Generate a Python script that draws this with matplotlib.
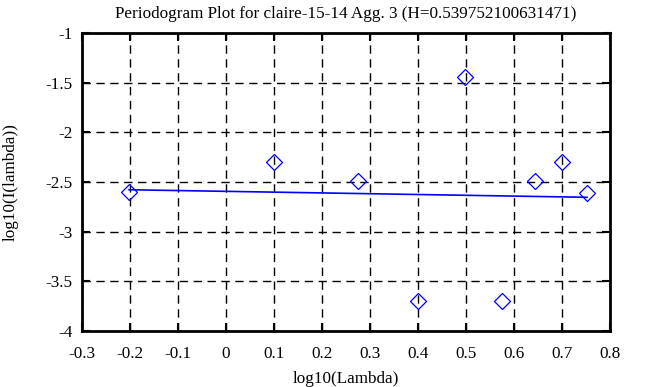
import numpy as np
import matplotlib
matplotlib.use("Agg")
import matplotlib.pyplot as plt

# periodogram points: log10(lambda) vs log10(I(lambda))
log_lambda = [-0.202, 0.099, 0.275, 0.400, 0.497, 0.576, 0.643, 0.701, 0.752]
log_power = [-2.605, -2.294, -2.490, -3.700, -1.445, -3.700, -2.490, -2.294, -2.615]

# least squares fit line endpoints
fit_x = [-0.202, 0.752]
fit_y = [-2.578, -2.654]

title = "Periodogram Plot for claire-15-14 Agg. 3 (H=0.539752100631471)"

plt.rcParams['font.family'] = ['Liberation Serif', 'DejaVu Serif']
plt.rcParams['font.size'] = 12.3

fig = plt.figure(figsize=(6.63, 3.87), dpi=100)
ax = fig.add_axes([82 / 663, 1 - 331 / 387, (610 - 82) / 663, (331 - 33) / 387])

ax.plot(fit_x, fit_y, color="blue", linewidth=1.2)
ax.plot(log_lambda, log_power, linestyle="none", marker="D", markersize=8,
        markerfacecolor="none", markeredgecolor="blue", markeredgewidth=0.9)

ax.set_xlim(-0.3, 0.8)
ax.set_ylim(-4, -1)
ax.set_xticks(np.arange(-0.3, 0.81, 0.1))
ax.set_yticks(np.arange(-4, -0.99, 0.5))
ax.set_xticklabels(["-0.3", "-0.2", "-0.1", "0", "0.1", "0.2", "0.3",
                    "0.4", "0.5", "0.6", "0.7", "0.8"])
ax.set_yticklabels(["-4", "-3.5", "-3", "-2.5", "-2", "-1.5", "-1"])
ax.grid(True, color="black", linestyle=(0, (6, 4)), linewidth=1)
ax.tick_params(direction="in", top=True, right=True, length=6, width=1.5)
ax.tick_params(axis="x", pad=11)
ax.tick_params(axis="y", pad=7)
for s in ax.spines.values():
    s.set_linewidth(2)

ax.set_title(title, fontsize=12.3, pad=11)
ax.set_xlabel("log10(Lambda)", labelpad=6)
ax.set_ylabel("log10(I(lambda))", labelpad=19)

fig.savefig("out.png", dpi=100)
